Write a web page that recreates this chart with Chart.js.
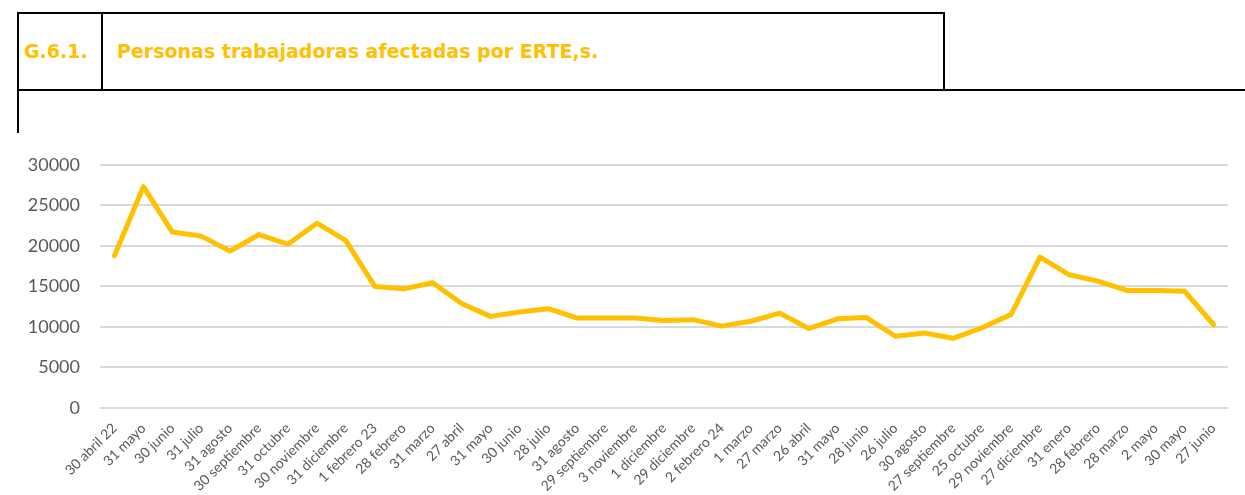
<!DOCTYPE html>
<html>
<head>
<meta charset="utf-8">
<script src="https://cdn.jsdelivr.net/npm/chart.js@4.4.1/dist/chart.umd.min.js"></script>
<style>
  body { margin: 0; background: #fff; width: 1245px; height: 495px; overflow: hidden; position: relative; font-family: Lato, sans-serif; }
  .box { position: absolute; left: 17px; top: 12px; width: 924px; height: 77px; border: 2px solid #000; border-bottom: none; }
  .divider { position: absolute; left: 101px; top: 12px; width: 2px; height: 79px; background: #000; }
  .hline { position: absolute; left: 17px; top: 89px; width: 1228px; height: 2px; background: #000; }
  .vline { position: absolute; left: 17px; top: 91px; width: 2px; height: 42px; background: #000; }
  .code, .title { position: absolute; top: 40px; color: #FFC000; font-family: 'DejaVu Sans', sans-serif; font-weight: bold; font-size: 19px; white-space: nowrap; }
  .code { left: 24px; }
  .title { left: 117px; }
  #wrap { position: absolute; left: 0; top: 134px; width: 1245px; height: 361px; }
</style>
</head>
<body>
<div class="box"></div>
<div class="divider"></div>
<div class="hline"></div>
<div class="vline"></div>
<div class="code">G.6.1.</div>
<div class="title">Personas trabajadoras afectadas por ERTE,s.</div>
<div id="wrap"><canvas id="erte_chart"></canvas></div>
<script>
  // fechas de cierre de cada mes (abril 2022 - junio 2025)
  var labels = [
    "30 abril 22", "31 mayo", "30 junio", "31 julio", "31 agosto", "30 septiembre",
    "31 octubre", "30 noviembre", "31 diciembre", "1 febrero 23", "28 febrero", "31 marzo",
    "27 abril", "31 mayo", "30 junio", "28 julio", "31 agosto", "29 septiembre",
    "3 noviembre", "1 diciembre", "29 diciembre", "2 febrero 24", "1 marzo", "27 marzo",
    "26 abril", "31 mayo", "28 junio", "26 julio", "30 agosto", "27 septiembre",
    "25 octubre", "29 noviembre", "27 diciembre", "31 enero", "28 febrero", "28 marzo",
    "2 mayo", "30 mayo", "27 junio"
  ]
  var personas = [
    18800, 27300, 21700, 21200, 19350, 21400,
    20200, 22800, 20650, 15000, 14700, 15450,
    12900, 11300, 11850, 12250, 11100, 11100,
    11100, 10800, 10900, 10100, 10700, 11700,
    9800, 11000, 11150, 8850, 9250, 8600,
    9900, 11550, 18600, 16450, 15650, 14500,
    14500, 14400, 10300
  ]
  var yTicksMax = 30000
  var yTicksStep = 5000

  var gold = '#FFC000'
  var grey = '#595959'

  Chart.defaults.font.family = 'Lato, sans-serif'

  var config = {
    type: 'line',
    data: {
      labels: labels,
      datasets: [{
        label: 'Personas trabajadoras afectadas por ERTE',
        data: personas,
        borderColor: gold,
        backgroundColor: gold,
        borderWidth: 5,
        pointRadius: 0,
        tension: 0,
        borderJoinStyle: 'round',
        borderCapStyle: 'round'
      }]
    },
    options: {
      responsive: true,
      maintainAspectRatio: false,
      animation: false,
      layout: { padding: { top: 0, right: 17, left: 0, bottom: 0 } },
      plugins: {
        legend: { display: false },
        tooltip: { enabled: false }
      },
      scales: {
        x: {
          offset: true,
          grid: { display: false, drawTicks: false },
          border: { display: false },
          ticks: {
            color: grey,
            font: { size: 14 },
            maxRotation: 45,
            minRotation: 45,
            autoSkip: false,
            padding: 12
          },
          afterFit: function(scale) { scale.height = 87 }
        },
        y: {
          min: 0,
          max: yTicksMax,
          grid: { color: '#D9D9D9', lineWidth: 2, drawTicks: false },
          border: { display: false },
          ticks: {
            stepSize: yTicksStep,
            color: grey,
            font: { size: 18 },
            padding: 20,
            callback: function(value) { return String(value) }
          },
          afterFit: function(scale) { scale.width = 100 }
        }
      }
    }
  }

  var ctx = document.getElementById('erte_chart').getContext('2d')
  var myChart = new Chart(ctx, config)
</script>
</body>
</html>
